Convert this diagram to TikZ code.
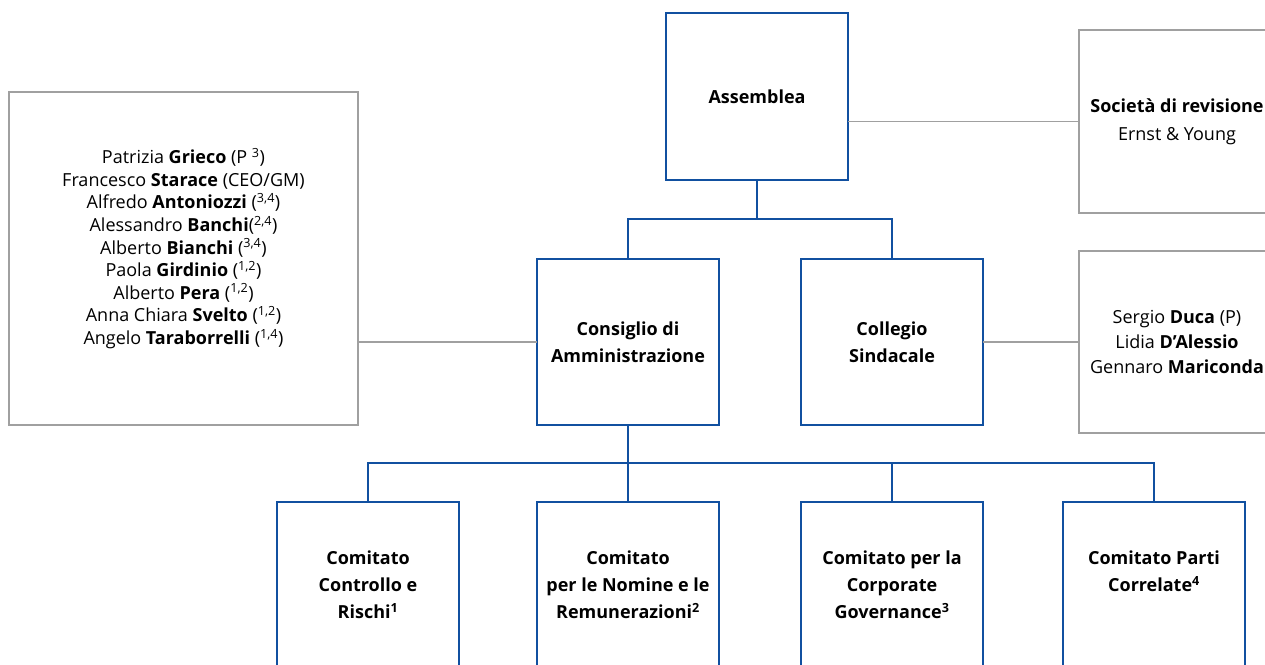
\documentclass[tikz,border=0pt]{standalone}
\usepackage{fontspec}
\setmainfont{Open Sans}
\definecolor{eblue}{RGB}{17,80,160}
\definecolor{egray}{RGB}{160,160,160}
\begin{document}
\begin{tikzpicture}[x=1pt,y=-1pt,
  bluebox/.style={draw=eblue,line width=1.8pt,rectangle,inner sep=0pt,outer sep=0pt,anchor=north west,
    minimum width=182pt,minimum height=166pt,align=center,
    font=\fontsize{18}{27}\selectfont\bfseries},
  graybox/.style={draw=egray,line width=1.8pt,rectangle,inner sep=0pt,outer sep=0pt,anchor=north west,align=center},
  bluelink/.style={draw=eblue,line width=1.5pt},
  graylink/.style={draw=egray,line width=1.5pt}]
\useasboundingbox (0,0) rectangle (1265,664);
\clip (0,0) rectangle (1265,664);

% top level
\node[bluebox,minimum height=167pt] (ass) at (666,13) {Assemblea};
\node[bluebox] (cda) at (537,259) {Consiglio di\\Amministrazione};
\node[bluebox] (col) at (801,259) {Collegio\\Sindacale};

% side boxes
\node[graybox,minimum width=349pt,minimum height=333pt] (board) at (9,92) {};
\node[align=center,inner sep=0pt,font=\fontsize{18}{22.6}\selectfont] (boardt) at (183.5,248.5)
 {Patrizia \textbf{Grieco} (P \textsuperscript{3})\\
  Francesco \textbf{Starace} (CEO/GM)\\
  Alfredo \textbf{Antoniozzi} (\textsuperscript{3,4})\\
  Alessandro \textbf{Banchi}(\textsuperscript{2,4})\\
  Alberto \textbf{Bianchi} (\textsuperscript{3,4})\\
  Paola \textbf{Girdinio} (\textsuperscript{1,2})\\
  Alberto \textbf{Pera} (\textsuperscript{1,2})\\
  Anna Chiara \textbf{Svelto} (\textsuperscript{1,2})\\
  Angelo \textbf{Taraborrelli} (\textsuperscript{1,4})};

\node[graybox,minimum width=196pt,minimum height=183pt,font=\fontsize{18}{28}\selectfont] (soc) at (1079,30)
 {\textbf{Società di revisione}\\Ernst \& Young};
\node[graybox,minimum width=196pt,minimum height=182pt,font=\fontsize{18}{25}\selectfont] (sind) at (1079,251)
 {Sergio \textbf{Duca} (P)\\Lidia \textbf{D’Alessio}\\Gennaro \textbf{Mariconda}};

% committees
\node[bluebox] (c1) at (277,502) {Comitato\\Controllo e\\Rischi\textsuperscript{1}};
\node[bluebox] (c2) at (537,502) {Comitato\\per le Nomine e le\\Remunerazioni\textsuperscript{2}};
\node[bluebox] (c3) at (801,502) {Comitato per la\\Corporate\\Governance\textsuperscript{3}};
\node[bluebox] (c4) at (1063,502) {Comitato Parti\\Correlate\textsuperscript{4}\\~};

% connectors
\draw[bluelink] (ass.south) -- ++(0,39) coordinate (j1);
\draw[bluelink] (cda.north) |- (j1) -| (col.north);
\draw[bluelink] (cda.south) -- ++(0,38) coordinate (j2) -- (c2.north);
\draw[bluelink] (c1.north) |- (j2) -| (c4.north);
\draw[bluelink] (c3.north) |- (j2);

\draw[graylink] (soc.west -| ass.east) -- (soc.west);
\draw[graylink] (cda.west -| board.east) -- (cda.west);
\draw[graylink] (sind.west -| col.east) -- (sind.west);
\end{tikzpicture}
\end{document}
